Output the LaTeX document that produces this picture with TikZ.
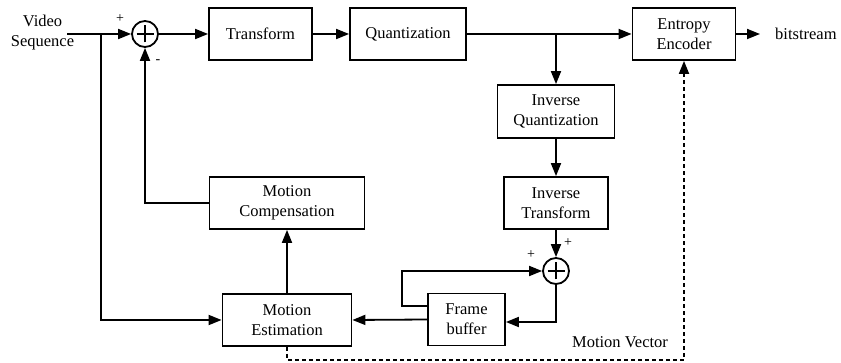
\documentclass[tikz,border=0pt]{standalone}
\usepackage{fontspec}
\setmainfont{Liberation Serif}
\usetikzlibrary{arrows.meta}
\begin{document}
\begin{tikzpicture}[x=1pt,y=-1pt,
  every node/.style={font=\fontsize{16.5}{20}\selectfont},
  blk/.style={draw,line width=1.8pt,align=center,inner sep=0pt},
  txt/.style={align=center,inner sep=0pt},
  sgn/.style={inner sep=0pt,font=\fontsize{14}{15}\selectfont},
  sumnode/.style={draw,circle,line width=1.8pt,minimum size=26pt,inner sep=0pt,
    path picture={\draw[line width=1.8pt] (path picture bounding box.center) ++(-8.5pt,0) -- ++(17pt,0);
                  \draw[line width=1.8pt] (path picture bounding box.center) ++(0,-8.5pt) -- ++(0,17pt);}},
  conn/.style={line width=1.8pt,-{Triangle[length=13pt,width=10pt]}},
  dconn/.style={line width=1.8pt,dash pattern=on 4pt off 3pt,-{Triangle[length=13pt,width=10pt]}}
]
\useasboundingbox (0,0) rectangle (841,363);

\node[txt] (vs) at (42.5,33) {Video\\Sequence};
\coordinate (in) at (67,34);
\node[sumnode] (s1) at (145,34) {};
\node[blk,minimum width=103pt,minimum height=52pt] (T) at (260.5,34) {Transform};
\node[blk,minimum width=116pt,minimum height=52pt] (Q) at (408,34) {Quantization};
\node[blk,minimum width=103pt,minimum height=52pt] (EE) at (684,34) {Entropy\\Encoder};
\coordinate (bout) at (760,34);
\node[txt,anchor=west] (bs) at (775,34) {bitstream};
\node[blk,minimum width=117pt,minimum height=53pt] (IQ) at (556,111.5) {Inverse\\Quantization};
\node[blk,minimum width=104pt,minimum height=52pt] (IT) at (556,203) {Inverse\\Transform};
\node[blk,minimum width=155pt,minimum height=52pt] (MC) at (287,203) {Motion\\Compensation};
\node[blk,minimum width=129pt,minimum height=52pt] (ME) at (287,320) {Motion\\Estimation};
\node[blk,minimum width=77pt,minimum height=52pt] (FB) at (466.5,319.5) {Frame\\buffer};
\node[sumnode] (s2) at (556,271) {};
\node[txt] (mv) at (620,342) {Motion Vector};

\node[sgn] (p1) at (120,19) {+};
\node[sgn] (m1) at (158,62) {-};
\node[sgn] (p2) at (531,255) {+};
\node[sgn] (p3) at (568,243) {+};

\coordinate (br1) at (101,34);
\coordinate (br2) at (556,34);
\coordinate (lp) at (402,306);

\draw[conn] (in) -- (s1.west);
\draw[conn] (br1) |- (ME.west);
\draw[conn] (s1.east) -- (T.west);
\draw[conn] (T.east) -- (Q.west);
\draw[conn] (Q.east) -- (EE.west);
\draw[conn] (EE.east) -- (bout);
\draw[conn] (br2) -- (IQ.north);
\draw[conn] (IQ.south) -- (IT.north);
\draw[conn] (IT.south) -- (s2.north);
\draw[conn] (s2.south) |- ([yshift=-2.5pt]FB.east);
\draw[conn] (FB.west) -- (ME.east);
\draw[conn] ([yshift=13.5pt]FB.west) -- (lp) |- (s2.west);
\draw[conn] (ME.north) -- (MC.south);
\draw[conn] (MC.west) -| (s1.south);
\draw[dconn] (ME.south) -- ++(0,13) -| (EE.south);
\end{tikzpicture}
\end{document}
